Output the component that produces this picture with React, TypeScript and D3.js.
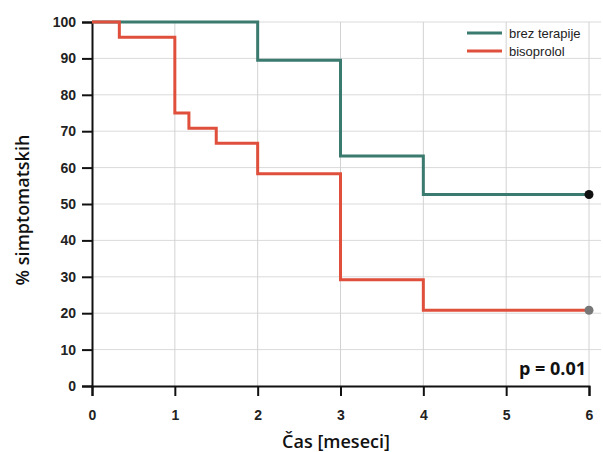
import React, { useEffect, useRef } from "react";
import * as d3 from "d3";

// Kaplan-Meier steps: time (months) and % symptomatic
const brezTime = [0, 2, 3, 4, 6];
const brezValue = [100, 89.5, 63.2, 52.6, 52.6];
const bisoTime = [0, 0.33, 1, 1.17, 1.5, 2, 3, 4, 6];
const bisoValue = [100, 95.8, 75, 70.8, 66.7, 58.3, 29.2, 20.8, 20.8];

const seriesNames = ["brez terapije", "bisoprolol"];
const xTicks = [0, 1, 2, 3, 4, 5, 6];
const yTicks = [0, 10, 20, 30, 40, 50, 60, 70, 80, 90, 100];

const GREEN = "#3b7b6f";
const RED = "#df4f3b";

export default function App() {
  const svgRef = useRef<SVGSVGElement>(null);

  useEffect(() => {
    const width = 603;
    const height = 452;
    const margin = { top: 22, right: 14, bottom: 66, left: 92 };

    const svg = d3.select(svgRef.current);
    svg.selectAll("*").remove();
    svg.attr("width", width).attr("height", height);

    const x = d3.scaleLinear().domain([0, 6]).range([margin.left, 589]);
    const y = d3.scaleLinear().domain([0, 100]).range([height - margin.bottom, margin.top]);

    svg.append("rect").attr("width", width).attr("height", height).attr("fill", "#fff");

    // grid
    svg
      .append("g")
      .selectAll("line")
      .data(yTicks.filter((d) => d > 0))
      .enter()
      .append("line")
      .attr("x1", x(0))
      .attr("x2", 601)
      .attr("y1", (d) => y(d))
      .attr("y2", (d) => y(d))
      .attr("stroke", "#dadada")
      .attr("stroke-width", 1);

    svg
      .append("g")
      .selectAll("line")
      .data(xTicks.filter((d) => d > 0))
      .enter()
      .append("line")
      .attr("x1", (d) => x(d))
      .attr("x2", (d) => x(d))
      .attr("y1", y(0))
      .attr("y2", y(100))
      .attr("stroke", "#d2d2d2")
      .attr("stroke-width", 1);

    // axes
    const yAxis = svg
      .append("g")
      .attr("transform", `translate(${x(0)},0)`)
      .call(d3.axisLeft(y).tickValues(yTicks).tickSize(10).tickPadding(6));
    yAxis.select(".domain").attr("stroke", "#111").attr("stroke-width", 2);
    yAxis.selectAll(".tick line").attr("stroke", "#111").attr("stroke-width", 2);
    yAxis
      .selectAll(".tick text")
      .attr("fill", "#222")
      .style("font-family", "Liberation Sans, Arial, sans-serif")
      .style("font-size", "14px")
      .style("font-weight", "bold");

    const xAxis = svg
      .append("g")
      .attr("transform", `translate(0,${y(0)})`)
      .call(
        d3
          .axisBottom(x)
          .tickValues(xTicks)
          .tickFormat(d3.format("d"))
          .tickSize(10)
          .tickPadding(14)
      );
    xAxis.select(".domain").attr("stroke", "#111").attr("stroke-width", 2);
    xAxis.selectAll(".tick line").attr("stroke", "#111").attr("stroke-width", 2);
    xAxis
      .selectAll(".tick text")
      .attr("fill", "#222")
      .style("font-family", "Liberation Sans, Arial, sans-serif")
      .style("font-size", "14px")
      .style("font-weight", "bold");

    // step curves
    const line = d3
      .line<[number, number]>()
      .x((d) => x(d[0]))
      .y((d) => y(d[1]))
      .curve(d3.curveStepAfter);

    const brez = brezTime.map((t, i) => [t, brezValue[i]] as [number, number]);
    const biso = bisoTime.map((t, i) => [t, bisoValue[i]] as [number, number]);

    svg
      .append("path")
      .datum(brez)
      .attr("d", line)
      .attr("fill", "none")
      .attr("stroke", GREEN)
      .attr("stroke-width", 3);

    svg
      .append("path")
      .datum(biso)
      .attr("d", line)
      .attr("fill", "none")
      .attr("stroke", RED)
      .attr("stroke-width", 3);

    // censor points at end
    svg
      .append("circle")
      .attr("cx", x(brezTime[brezTime.length - 1]))
      .attr("cy", y(brezValue[brezValue.length - 1]))
      .attr("r", 4.5)
      .attr("fill", "#111");
    svg
      .append("circle")
      .attr("cx", x(bisoTime[bisoTime.length - 1]))
      .attr("cy", y(bisoValue[bisoValue.length - 1]))
      .attr("r", 4.5)
      .attr("fill", "#777");

    // legend
    const legend = svg.append("g").attr("transform", "translate(467,33)");
    [GREEN, RED].forEach((c, i) => {
      legend
        .append("line")
        .attr("x1", 0)
        .attr("x2", 35)
        .attr("y1", i * 18)
        .attr("y2", i * 18)
        .attr("stroke", c)
        .attr("stroke-width", 3);
      legend
        .append("text")
        .attr("x", 42)
        .attr("y", i * 18 + 4.5)
        .attr("fill", "#222")
        .style("font-family", "Liberation Sans, Arial, sans-serif")
        .style("font-size", "13px")
        .text(seriesNames[i]);
    });

    // p value
    svg
      .append("text")
      .attr("x", 586)
      .attr("y", 375)
      .attr("text-anchor", "end")
      .attr("fill", "#111")
      .style("font-family", "Open Sans, sans-serif")
      .style("font-size", "18px")
      .style("font-weight", "bold")
      .text("p = 0.01");

    // axis titles
    svg
      .append("text")
      .attr("transform", `translate(29,210) rotate(-90)`)
      .attr("text-anchor", "middle")
      .attr("fill", "#111")
      .style("font-family", "Open Sans, sans-serif")
      .style("font-size", "18px")
      .style("font-weight", 600)
      .text("% simptomatskih");

    svg
      .append("text")
      .attr("x", 336)
      .attr("y", 448)
      .attr("text-anchor", "middle")
      .attr("fill", "#111")
      .style("font-family", "Open Sans, sans-serif")
      .style("font-size", "18px")
      .style("font-weight", 600)
      .text("Čas [meseci]");
  }, []);

  return (
    <div style={{ position: "absolute", left: 0, top: 0 }}>
      <svg ref={svgRef} style={{ display: "block" }}></svg>
    </div>
  );
}
